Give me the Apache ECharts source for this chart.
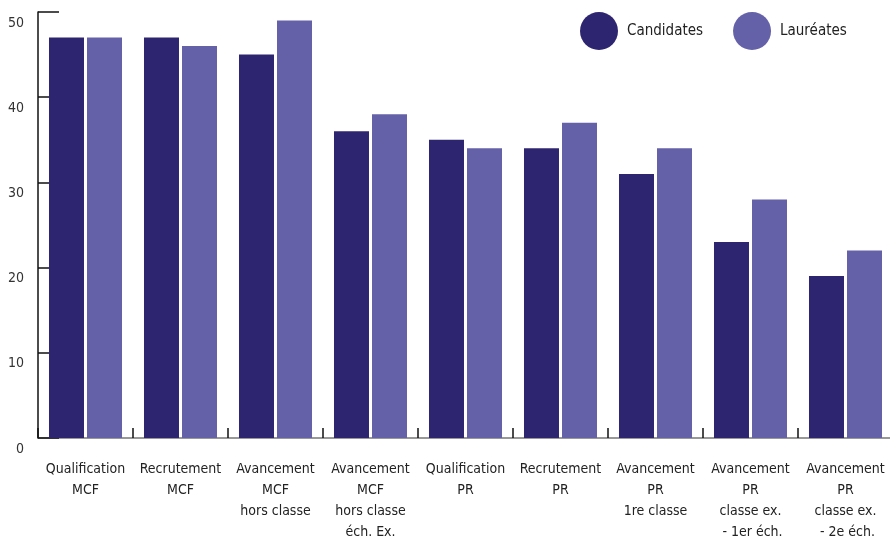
<!DOCTYPE html>
<html><head><meta charset="utf-8">
<script src="https://cdn.jsdelivr.net/npm/echarts@6/dist/echarts.min.js"></script>
<style>html,body{margin:0;padding:0;background:#fff}#c{width:890px;height:539px}</style>
</head><body><div id="c"></div>
<script>
const categories = [
  "Qualification\nMCF",
  "Recrutement\nMCF",
  "Avancement\nMCF\nhors classe",
  "Avancement\nMCF\nhors classe\néch. Ex.",
  "Qualification\nPR",
  "Recrutement\nPR",
  "Avancement\nPR\n1re classe",
  "Avancement\nPR\nclasse ex.\n - 1er éch.",
  "Avancement\nPR\nclasse ex.\n - 2e éch."
];
const candidates = [47, 47, 45, 36, 35, 34, 31, 23, 19];
const laureates  = [47, 46, 49, 38, 34, 37, 34, 28, 22];
const yTicks = [0, 10, 20, 30, 40, 50];

const FONT = "'DejaVu Sans Condensed', 'Liberation Sans Narrow', sans-serif";
const chart = echarts.init(document.getElementById('c'), null, {renderer: 'canvas'});
chart.setOption({
  animation: false,
  backgroundColor: '#fff',
  legend: {
    left: 575, top: 7,
    icon: 'circle', itemWidth: 38, itemHeight: 38, itemGap: 30,
    textStyle: {fontFamily: FONT, fontSize: 15, color: '#222', padding: [0, 0, 0, 4]},
    data: ['Candidates', 'Lauréates']
  },
  grid: {left: 38, right: -3, top: 12, bottom: 101, outerBoundsMode: 'none', containLabel: false},
  xAxis: {
    type: 'category', data: categories,
    axisLine: {lineStyle: {color: '#777', width: 1.5}},
    axisTick: {show: true, inside: true, length: 10, lineStyle: {color: '#111', width: 1.5}},
    axisLabel: {fontFamily: FONT, fontSize: 14, color: '#222', lineHeight: 21, margin: 21, interval: 0}
  },
  yAxis: {
    type: 'value', min: yTicks[0], max: yTicks[yTicks.length - 1], interval: 10,
    splitLine: {show: false},
    axisLine: {show: true, lineStyle: {color: '#111', width: 1.5}},
    axisTick: {show: true, inside: true, length: 21, lineStyle: {color: '#111', width: 1.5}},
    axisLabel: {fontFamily: FONT, fontSize: 14, color: '#333', margin: 14, verticalAlign: 'top', padding: [4, 0, 0, 0]}
  },
  series: [
    {name: 'Candidates', type: 'bar', data: candidates, barWidth: 35, barGap: '8.6%',
     itemStyle: {color: '#2e2570'}},
    {name: 'Lauréates', type: 'bar', data: laureates, barWidth: 35,
     itemStyle: {color: '#6461a8'}}
  ]
});
</script></body></html>
